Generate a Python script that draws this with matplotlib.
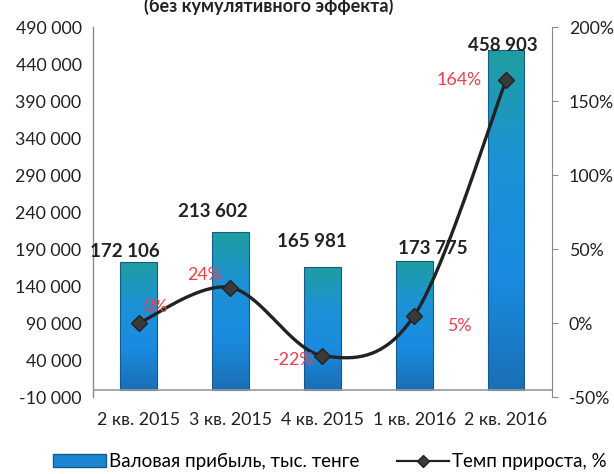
import numpy as np
import matplotlib
matplotlib.use("Agg")
import matplotlib.pyplot as plt
from matplotlib.patches import Patch
from matplotlib.lines import Line2D
from matplotlib.colors import LinearSegmentedColormap

plt.rcParams['font.family'] = ['Lato', 'DejaVu Sans']

quarters = ['2 кв. 2015', '3 кв. 2015', '4 кв. 2015', '1 кв. 2016', '2 кв. 2016']
profit = [172106, 213602, 165981, 173775, 458903]
growth = [0, 24, -22, 5, 164]
profit_labels = ['172 106', '213 602', '165 981', '173 775', '458 903']
growth_labels = ['0%', '24%', '-22%', '5%', '164%']
left_ticks = list(range(-10000, 490001, 50000))
right_ticks = [-50, 0, 50, 100, 150, 200]

# label offsets in pixels (value labels: from bar top, growth labels: from marker)
profit_offsets = [(-14, 11), (-18, 20), (-10, 25), (19, 13), (-3, 5)]
growth_offsets = [(17, 16), (-26, 13), (-29, -4), (45, -10), (-47, 0)]

red = '#e8404c'
grad = LinearSegmentedColormap.from_list('bar', ['#1b6fb5', '#1a8be0', '#1c92d6', '#1f9ea0'])


def smooth_curve(xs, ys, yscale, n=40):
    # catmull-rom style smoothing, like a spreadsheet "smoothed line"
    px = np.array(xs, dtype=float)
    py = np.array(ys, dtype=float) * yscale
    out_x, out_y = [], []
    for i in range(len(px) - 1):
        p0 = (px[max(i - 1, 0)], py[max(i - 1, 0)])
        p1 = (px[i], py[i])
        p2 = (px[i + 1], py[i + 1])
        p3 = (px[min(i + 2, len(px) - 1)], py[min(i + 2, len(px) - 1)])
        c1 = (p1[0] + (p2[0] - p0[0]) / 6, p1[1] + (p2[1] - p0[1]) / 6)
        c2 = (p2[0] - (p3[0] - p1[0]) / 6, p2[1] - (p3[1] - p1[1]) / 6)
        t = np.linspace(0, 1, n)
        bx = (1 - t) ** 3 * p1[0] + 3 * (1 - t) ** 2 * t * c1[0] + 3 * (1 - t) * t ** 2 * c2[0] + t ** 3 * p2[0]
        by = (1 - t) ** 3 * p1[1] + 3 * (1 - t) ** 2 * t * c1[1] + 3 * (1 - t) * t ** 2 * c2[1] + t ** 3 * p2[1]
        out_x.extend(bx)
        out_y.extend(by)
    return np.array(out_x), np.array(out_y) / yscale


fig = plt.figure(figsize=(6.14, 4.74), dpi=100)
ax = fig.add_axes([0.151, 0.1624, 0.748, 0.7806])
ax2 = ax.twinx()

x = np.arange(len(quarters))
bars = ax.bar(x, profit, width=0.4, color='#1a86d4', zorder=2)
gradient = np.linspace(0, 1, 256).reshape(-1, 1)
for b in bars:
    im = ax.imshow(gradient, cmap=grad, origin='lower', aspect='auto', zorder=3,
                   extent=[b.get_x(), b.get_x() + b.get_width(), 0, b.get_height()])
    im.set_clip_path(b)
    ax.bar(b.get_x() + b.get_width() / 2, b.get_height(), width=b.get_width(),
           fill=False, edgecolor='#1a5a8a', linewidth=0.8, zorder=4)

for xi, v, lab, off in zip(x, profit, profit_labels, profit_offsets):
    ax.annotate(lab, (xi, v), xytext=off, textcoords='offset pixels', ha='center',
                va='center', fontsize=13.5, fontweight='bold', color='#222222', zorder=6)

ax.axhline(0, color='#9a9a9a', linewidth=1.2, zorder=5)
ax.set_xlim(-0.5, len(quarters) - 0.5)
ax.set_ylim(-10000, 490000)
ax.set_yticks(left_ticks)
ax.set_yticklabels([f'{t:,}'.replace(',', ' ') for t in left_ticks])
ax.set_xticks(x)
ax.set_xticklabels(quarters)
ax.tick_params(axis='x', length=0, pad=11, labelsize=12.8, colors='#222222')
ax.tick_params(axis='y', length=0, pad=8, labelsize=12.8, colors='#222222')
for s in ['top', 'right', 'bottom']:
    ax.spines[s].set_visible(False)
ax.spines['left'].set_color('#8a8a8a')
ax.spines['left'].set_linewidth(1.0)

# growth line
sx, sy = smooth_curve(x, growth, 1.48 / 92.0)
ax2.plot(sx, sy, color='#222222', linewidth=2.4, zorder=5)
ax2.plot(x, growth, linestyle='none', marker='D', markersize=8.5, color='#3a3a3a',
         markeredgecolor='#222222', zorder=6)
for xi, v, lab, off in zip(x, growth, growth_labels, growth_offsets):
    ax2.annotate(lab, (xi, v), xytext=off, textcoords='offset pixels', ha='center',
                 va='center', fontsize=12.8, color=red, zorder=7)
ax2.set_ylim(-50, 200)
ax2.set_yticks(right_ticks)
ax2.set_yticklabels([f'{t}%' for t in right_ticks])
ax2.tick_params(axis='y', length=4, pad=8, labelsize=12.8, colors='#8a8a8a', labelcolor='#222222')
for s in ['top', 'left', 'bottom']:
    ax2.spines[s].set_visible(False)
ax2.spines['right'].set_color('#8a8a8a')

fig.text(0.437, 1 - 6 / 474, '(без кумулятивного эффекта)', ha='center', va='center',
         fontsize=13, fontweight='bold', color='#222222')

handles = [Patch(facecolor='#1a86d4', edgecolor='#1a5a8a'),
           Line2D([], [], color='#222222', linewidth=1.6, marker='D', markersize=6,
                  markerfacecolor='#3a3a3a')]
fig.legend(handles, ['Валовая прибыль, тыс. тенге', 'Темп прироста, %'],
           loc='center', bbox_to_anchor=(0.5375, 0.026), ncol=2, frameon=False,
           fontsize=13.5, handlelength=2.8, handletextpad=0.15, columnspacing=2.0,
           borderaxespad=0, borderpad=0)

fig.savefig('out.png', dpi=100)
